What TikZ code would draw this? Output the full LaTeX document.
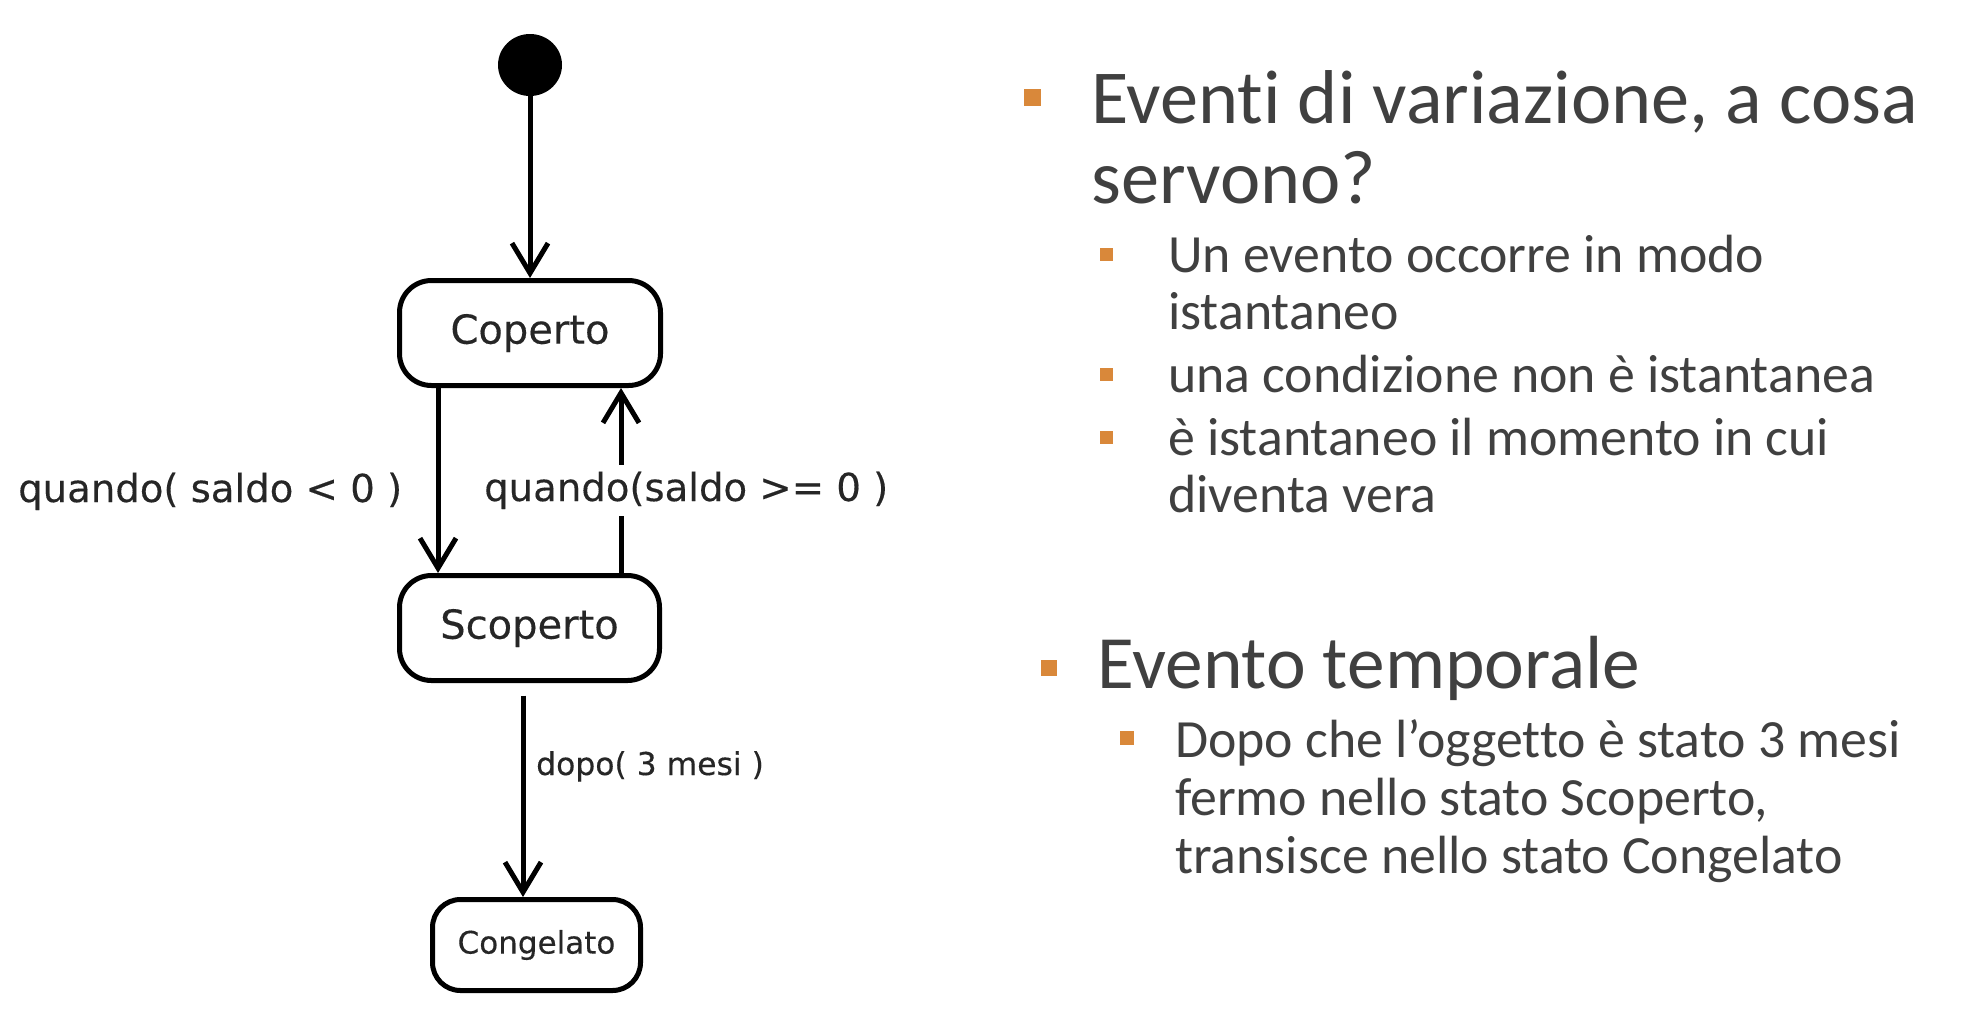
\documentclass[tikz,border=0pt]{standalone}
\usepackage{fontspec}
\setmainfont[Ligatures=NoCommon]{Carlito}
\newfontfamily\djv[FakeBold=0.3]{DejaVu Sans}
\usetikzlibrary{arrows.meta,shapes.geometric}
\definecolor{slidetext}{HTML}{404040}
\definecolor{bulletorange}{HTML}{D9883A}
\definecolor{diagtext}{HTML}{262626}
\begin{document}
\begin{tikzpicture}[x=1pt,y=-1pt,
  statebox/.style={draw=black, line width=5pt, rounded corners=32pt, inner sep=0pt,
    text=diagtext, font=\djv\fontsize{40}{48}\selectfont},
  trans/.style={draw=black, line width=5pt, -{Straight Barb[length=30pt,width=36pt]}},
  lbl/.style={inner sep=0pt, anchor=base west, text=diagtext, font=\djv\fontsize{38.6}{46}\selectfont},
  slidetxt/.style={inner sep=0pt, anchor=base west, text=slidetext},
  big/.style={slidetxt, font=\fontsize{76.3}{80}\selectfont},
  sub/.style={slidetxt, font=\fontsize{53.8}{58}\selectfont},
  bullet/.style={fill=bulletorange}]
\useasboundingbox (0,0) rectangle (1964,1020);
\fill[white] (0,0) rectangle (1964,1020);

% ---------- state diagram ----------
\node[ellipse, fill=black, minimum width=64pt, minimum height=62pt, inner sep=0pt] (init) at (530,65) {};
\node[statebox, minimum width=261pt, minimum height=105pt] (cop) at (530,333) {Coperto};
\node[statebox, minimum width=260pt, minimum height=105pt] (scop) at (529.5,628) {Scoperto};
\node[statebox, minimum width=208pt, minimum height=91pt, rounded corners=28pt,
      font=\djv\fontsize{31}{37}\selectfont] (cong) at (536.5,945) {Congelato};

\draw[trans] (init) -- (cop);
\draw[trans] ([xshift=-92pt]cop.south) -- ([xshift=-92pt]cop.south |- scop.north);
\draw[trans] ([xshift=91.5pt]scop.north) -- ([xshift=91.5pt]scop.north |- cop.south);
\draw[trans] ([xshift=-6.5pt,yshift=-12.5pt]scop.south) -- ([xshift=-6.5pt]scop.south |- cong.north);

\node[lbl] (g1) at (18,502) {quando( saldo < 0 )};
\node[lbl, fill=white, inner ysep=7pt] (g2) at (484,501) {quando(saldo >= 0 )};
\node[lbl, font=\djv\fontsize{31.4}{37}\selectfont] (g3) at (536,775) {dopo( 3 mesi )};

% ---------- slide text ----------
\fill[bullet] (1024,89) rectangle (1041,106);
\node[big] (h1a) at (1091,123) {Eventi di variazione, a cosa};
\node[big] (h1b) at (1091,203) {servono?};

\fill[bullet] (1100,248) rectangle (1113,261);
\node[sub] (s1a) at (1168,272) {Un evento occorre in modo};
\node[sub] (s1b) at (1168,329) {istantaneo};
\fill[bullet] (1100,368) rectangle (1113,381);
\node[sub] (s2) at (1168,392) {una condizione non è istantanea};
\fill[bullet] (1100,431) rectangle (1113,444);
\node[sub] (s3a) at (1168,455) {è istantaneo il momento in cui};
\node[sub] (s3b) at (1168,512) {diventa vera};

\fill[bullet] (1041,660) rectangle (1057,676);
\node[big, font=\fontsize{75.3}{80}\selectfont] (h2) at (1097,688) {Evento temporale};

\fill[bullet] (1120,731) rectangle (1134,745);
\node[sub] (t1) at (1175,757) {Dopo che l’oggetto è stato 3 mesi};
\node[sub] (t2) at (1175,815) {fermo nello stato Scoperto,};
\node[sub] (t3) at (1175,873) {transisce nello stato Congelato};
\end{tikzpicture}
\end{document}
